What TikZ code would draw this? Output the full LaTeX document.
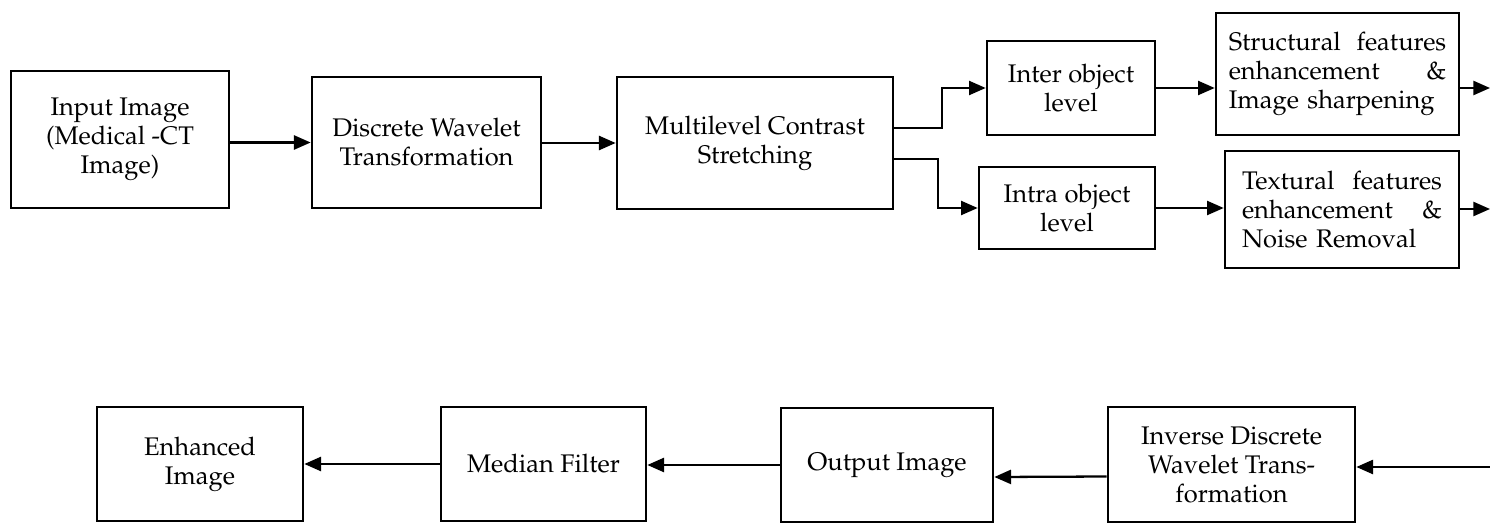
\documentclass[tikz,border=0pt]{standalone}
\usepackage[T1]{fontenc}
\renewcommand{\rmdefault}{ppl}
\usetikzlibrary{arrows.meta}

\begin{document}
\begin{tikzpicture}[
    block/.style={draw, line width=1.5pt, align=center, inner sep=2pt,
      font=\fontsize{14.5}{16.5}\selectfont},
    arr/.style={-{Triangle[length=9.5pt,width=8pt]}, line width=1.3pt}
  ]
  \useasboundingbox (0,0) rectangle (29.8,10.5);

  % upper row
  \node[block, minimum width=4.36cm, minimum height=2.74cm] (inp) at (2.40,7.71) {Input Image\\(Medical -CT\\Image)};
  \node[block, minimum width=4.58cm, minimum height=2.62cm] (dwt) at (8.53,7.65) {Discrete Wavelet\\Transformation};
  \node[block, minimum width=5.52cm, minimum height=2.64cm] (mcs) at (15.10,7.64) {Multilevel Contrast\\Stretching};
  \node[block, minimum width=3.36cm, minimum height=1.88cm] (inter) at (21.42,8.74) {Inter object\\level};
  \node[block, minimum width=3.52cm, minimum height=1.64cm] (intra) at (21.34,6.34) {Intra object\\level};
  \node[block, minimum width=4.86cm, minimum height=2.44cm, text width=4.35cm, align=left] (struct) at (26.75,9.02)
    {Structural \hfill features\\enhancement \hfill \&\\Image sharpening};
  \node[block, minimum width=4.68cm, minimum height=2.34cm, text width=4.0cm, align=left] (textu) at (26.84,6.31)
    {Textural \hfill features\\enhancement \hfill \&\\Noise Removal};

  % lower row
  \node[block, minimum width=4.12cm, minimum height=2.28cm] (enh) at (4.00,1.22) {Enhanced\\Image};
  \node[block, minimum width=4.10cm, minimum height=2.28cm] (med) at (10.87,1.22) {Median Filter};
  \node[block, minimum width=4.24cm, minimum height=2.28cm] (out) at (17.74,1.20) {Output Image};
  \node[block, minimum width=4.94cm, minimum height=2.30cm] (idwt) at (24.63,1.21) {Inverse Discrete\\Wavelet Trans-\\formation};

  % free ends at the right edge
  \coordinate (sedge) at (29.8,8.74);
  \coordinate (tedge) at (29.8,6.32);
  \coordinate (iedge) at (29.8,1.16);

  \draw[arr] (dwt.west -| inp.east) -- (dwt.west);
  \draw[arr] (mcs.west -| dwt.east) -- (mcs.west);
  \draw[arr] ([yshift=0.3cm]mcs.east) -- ++(0.96,0) |- (inter.west);
  \draw[arr] ([yshift=-0.32cm]mcs.east) -- ++(0.88,0) |- (intra.west);
  \draw[arr] (inter.east) -- (inter.east -| struct.west);
  \draw[arr] (intra.east) -- (intra.east -| textu.west);
  \draw[arr] (sedge -| struct.east) -- (sedge);
  \draw[arr] (tedge -| textu.east) -- (tedge);

  \draw[arr] (iedge) -- (iedge -| idwt.east);
  \draw[arr] ([yshift=-0.24cm]idwt.west) -- ([yshift=-0.24cm]out.east);
  \draw[arr] (out.west) -- (out.west -| med.east);
  \draw[arr] (med.west) -- (med.west -| enh.east);

\end{tikzpicture}
\end{document}
